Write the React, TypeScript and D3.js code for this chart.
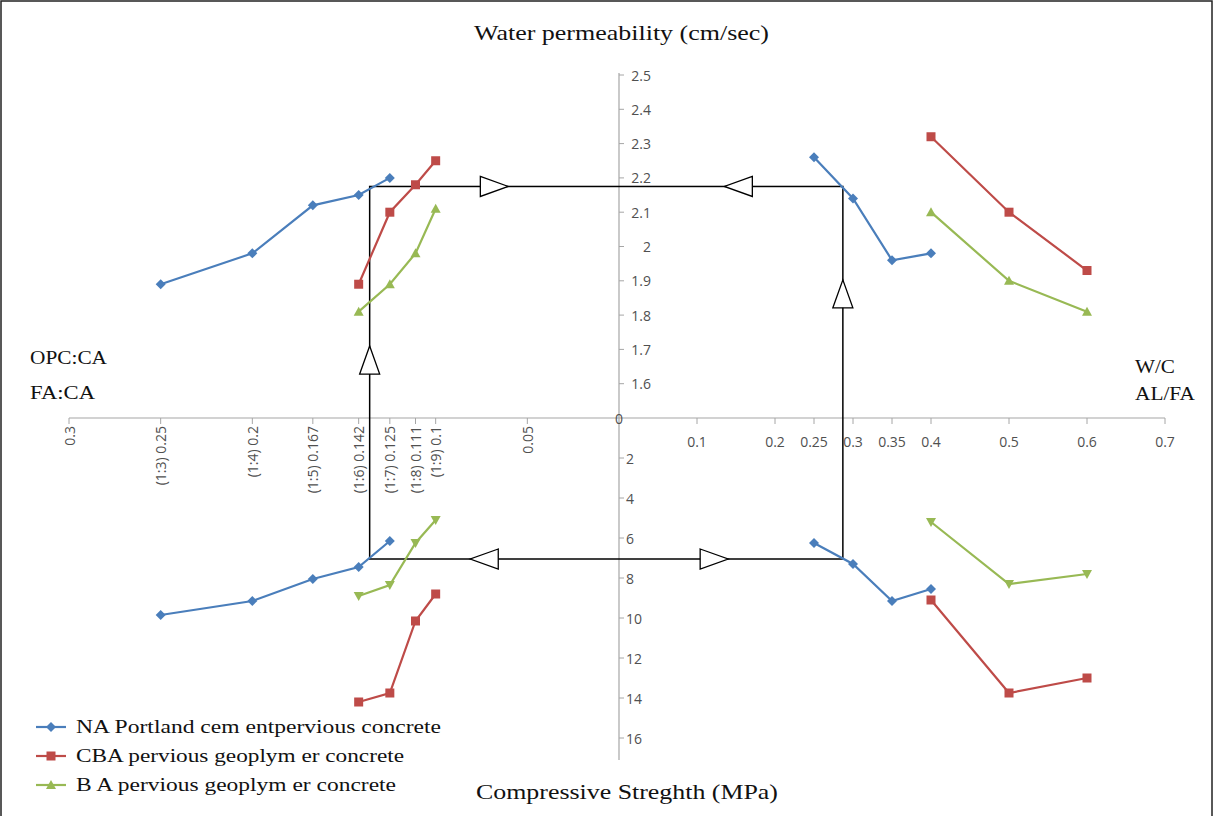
import React from "react";
import * as d3 from "d3";

// ---- Data ----
const opcRatios = [0.25, 0.2, 0.167, 0.142, 0.125];
const faRatios = [0.142, 0.125, 0.111, 0.1];
const wcRatios = [0.25, 0.3, 0.35, 0.4];
const alfaRatios = [0.4, 0.5, 0.6];

const naPermLeft = [1.89, 1.98, 2.12, 2.15, 2.2];
const cbaPermLeft = [1.89, 2.1, 2.18, 2.25];
const baPermLeft = [1.81, 1.89, 1.98, 2.11];
const naPermRight = [2.26, 2.14, 1.96, 1.98];
const cbaPermRight = [2.32, 2.1, 1.93];
const baPermRight = [2.1, 1.9, 1.81];

const naStrLeft = [9.85, 9.15, 8.05, 7.45, 6.15];
const cbaStrLeft = [14.2, 13.75, 10.15, 8.8];
const baStrLeft = [8.9, 8.35, 6.25, 5.1];
const naStrRight = [6.25, 7.3, 9.15, 8.55];
const cbaStrRight = [9.1, 13.75, 13.0];
const baStrRight = [5.2, 8.3, 7.8];

const leftTicks = [0.3, 0.25, 0.2, 0.167, 0.142, 0.125, 0.111, 0.1, 0.05];
const leftTickLabels = ["0.3", "(1:3) 0.25", "(1:4) 0.2", "(1:5) 0.167", "(1:6) 0.142", "(1:7) 0.125", "(1:8) 0.111", "(1:9) 0.1", "0.05"];
const rightTicks = [0.1, 0.2, 0.25, 0.3, 0.35, 0.4, 0.5, 0.6, 0.7];
const rightTickLabels = ["0.1", "0.2", "0.25", "0.3", "0.35", "0.4", "0.5", "0.6", "0.7"];
const permTicks = [1.6, 1.7, 1.8, 1.9, 2, 2.1, 2.2, 2.3, 2.4, 2.5];
const strTicks = [2, 4, 6, 8, 10, 12, 14, 16];

// rectangle (cycle) and arrows
const rectLeftRatio = 0.136;
const rectRightRatio = 0.287;
const rectPerm = 2.175;
const rectStr = 7.05;

const seriesNames = [
  "NA Portland cem entpervious concrete",
  "CBA pervious geoplym er concrete",
  "B A pervious geoplym er concrete",
];
const legendWidths = [365, 328, 320];
const colors = ["#4A7EBB", "#BE4B48", "#98B954"];

// ---- Scales ----
const xL = d3.scaleLinear().domain([0, 0.3]).range([619, 69]);
const xR = d3.scaleLinear().domain([0, 0.7]).range([619, 1165]);
const yT = d3.scaleLinear().domain([1.5, 2.5]).range([418, 75]);
const yB = d3.scaleLinear().domain([0, 16]).range([418, 738]);

const axisColor = "#A6A6A6";
const tickFont = "'Open Sans', 'Liberation Sans', sans-serif";
const tickColor = "#505050";
const tickSize = 14;
const serif = "'Liberation Serif', 'Times New Roman', serif";

function Marker({ kind, x, y, color, flip }: any) {
  if (kind === 0) {
    const r = 5;
    return <path d={`M${x},${y - r}L${x + r},${y}L${x},${y + r}L${x - r},${y}Z`} fill={color} />;
  }
  if (kind === 1) {
    return <rect x={x - 4.5} y={y - 4.5} width={9} height={9} fill={color} />;
  }
  const s = flip ? -1 : 1;
  return <path d={`M${x},${y - 5 * s}L${x + 5},${y + 4 * s}L${x - 5},${y + 4 * s}Z`} fill={color} />;
}

function Series({ xs, ys, xScale, yScale, kind, flip }: any) {
  const pts: [number, number][] = xs.map((x: number, i: number) => [xScale(x), yScale(ys[i])]);
  const line = d3.line()(pts) || "";
  return (
    <g>
      <path d={line} fill="none" stroke={colors[kind]} strokeWidth={2.2} />
      {pts.map((p, i) => (
        <Marker key={i} kind={kind} x={p[0]} y={p[1]} color={colors[kind]} flip={flip} />
      ))}
    </g>
  );
}

function Arrow({ x, y, dir }: any) {
  const L = 28, W = 10;
  let d = "";
  if (dir === "right") d = `M${x - L / 2},${y - W}L${x + L / 2},${y}L${x - L / 2},${y + W}Z`;
  if (dir === "left") d = `M${x + L / 2},${y - W}L${x - L / 2},${y}L${x + L / 2},${y + W}Z`;
  if (dir === "up") d = `M${x - W},${y + L / 2}L${x},${y - L / 2}L${x + W},${y + L / 2}Z`;
  return <path d={d} fill="white" stroke="#000" strokeWidth={1.3} />;
}

function SerifText({ x, y, len, size, children, anchor }: any) {
  return (
    <text
      x={x}
      y={y}
      textAnchor={anchor || "start"}
      dominantBaseline="central"
      fontFamily={serif}
      fontSize={size}
      fill="#111"
      textLength={len}
      lengthAdjust="spacingAndGlyphs"
    >
      {children}
    </text>
  );
}

export default function App() {
  const rx0 = xL(rectLeftRatio);
  const rx1 = xR(rectRightRatio);
  const ry0 = yT(rectPerm);
  const ry1 = yB(rectStr);
  return (
    <svg width={1215} height={816} style={{ position: "absolute", left: 0, top: 0, background: "#fff" }}>
      <rect x={1} y={1} width={1211} height={830} fill="white" stroke="#222" strokeWidth={1.5} />

      {/* axes */}
      <line x1={xL(0.3)} x2={xR(0.7)} y1={418} y2={418} stroke={axisColor} strokeWidth={1.2} />
      <line x1={619} x2={619} y1={73} y2={760} stroke={axisColor} strokeWidth={1.2} />

      {/* left ticks */}
      {leftTicks.map((t, i) => (
        <g key={"l" + i}>
          <line x1={xL(t)} x2={xL(t)} y1={418} y2={424} stroke={axisColor} />
          <text
            transform={`translate(${xL(t)},${426}) rotate(-90)`}
            textAnchor="end"
            dominantBaseline="central"
            fontFamily={tickFont}
            fontSize={tickSize}
            fill={tickColor}
          >
            {leftTickLabels[i]}
          </text>
        </g>
      ))}
      {/* right ticks */}
      {rightTicks.map((t, i) => (
        <g key={"r" + i}>
          <line x1={xR(t)} x2={xR(t)} y1={418} y2={424} stroke={axisColor} />
          <text x={xR(t)} y={441} textAnchor="middle" dominantBaseline="central" fontFamily={tickFont} fontSize={tickSize} fill={tickColor}>
            {rightTickLabels[i]}
          </text>
        </g>
      ))}
      {/* permeability ticks */}
      {permTicks.map((t, i) => (
        <g key={"p" + i}>
          <line x1={619} x2={624} y1={yT(t)} y2={yT(t)} stroke={axisColor} />
          <text x={651} y={yT(t)} textAnchor="end" dominantBaseline="central" fontFamily={tickFont} fontSize={tickSize} fill={tickColor}>
            {d3.format("")(t)}
          </text>
        </g>
      ))}
      {/* strength ticks */}
      {strTicks.map((t, i) => (
        <g key={"s" + i}>
          <line x1={619} x2={624} y1={yB(t)} y2={yB(t)} stroke={axisColor} />
          <text x={626} y={yB(t)} textAnchor="start" dominantBaseline="central" fontFamily={tickFont} fontSize={tickSize} fill={tickColor}>
            {t}
          </text>
        </g>
      ))}
      <text x={619} y={418} textAnchor="middle" dominantBaseline="central" fontFamily={tickFont} fontSize={tickSize} fill={tickColor}>0</text>

      {/* rectangle cycle */}
      <rect x={rx0} y={ry0} width={rx1 - rx0} height={ry1 - ry0} fill="none" stroke="#000" strokeWidth={1.5} />
      <Arrow x={xL(0.068)} y={ry0} dir="right" />
      <Arrow x={xR(0.153)} y={ry0} dir="left" />
      <Arrow x={rx1} y={yT(1.862)} dir="up" />
      <Arrow x={rx0} y={yT(1.669)} dir="up" />
      <Arrow x={xL(0.0735)} y={ry1} dir="left" />
      <Arrow x={xR(0.122)} y={ry1} dir="right" />

      {/* series */}
      <Series xs={opcRatios} ys={naPermLeft} xScale={xL} yScale={yT} kind={0} />
      <Series xs={faRatios} ys={cbaPermLeft} xScale={xL} yScale={yT} kind={1} />
      <Series xs={faRatios} ys={baPermLeft} xScale={xL} yScale={yT} kind={2} />
      <Series xs={wcRatios} ys={naPermRight} xScale={xR} yScale={yT} kind={0} />
      <Series xs={alfaRatios} ys={cbaPermRight} xScale={xR} yScale={yT} kind={1} />
      <Series xs={alfaRatios} ys={baPermRight} xScale={xR} yScale={yT} kind={2} />

      <Series xs={opcRatios} ys={naStrLeft} xScale={xL} yScale={yB} kind={0} />
      <Series xs={faRatios} ys={cbaStrLeft} xScale={xL} yScale={yB} kind={1} />
      <Series xs={faRatios} ys={baStrLeft} xScale={xL} yScale={yB} kind={2} flip />
      <Series xs={wcRatios} ys={naStrRight} xScale={xR} yScale={yB} kind={0} />
      <Series xs={alfaRatios} ys={cbaStrRight} xScale={xR} yScale={yB} kind={1} />
      <Series xs={alfaRatios} ys={baStrRight} xScale={xR} yScale={yB} kind={2} flip />

      {/* titles */}
      <SerifText x={474} y={33} len={295} size={21}>Water permeability  (cm/sec)</SerifText>
      <SerifText x={476} y={791} len={302} size={22}>Compressive Streghth (MPa)</SerifText>
      <SerifText x={30} y={357} len={77} size={19}>OPC:CA</SerifText>
      <SerifText x={30} y={392} len={65} size={19}>FA:CA</SerifText>
      <SerifText x={1135} y={366} len={40} size={19}>W/C</SerifText>
      <SerifText x={1135} y={393} len={60} size={19}>AL/FA</SerifText>

      {/* legend */}
      {seriesNames.map((n, i) => {
        const y = 727 + i * 29;
        return (
          <g key={"lg" + i}>
            <line x1={36} x2={66} y1={y} y2={y} stroke={colors[i]} strokeWidth={2.2} />
            <Marker kind={i} x={51} y={y} color={colors[i]} />
            <SerifText x={76} y={y} len={legendWidths[i]} size={18}>{n}</SerifText>
          </g>
        );
      })}
    </svg>
  );
}
